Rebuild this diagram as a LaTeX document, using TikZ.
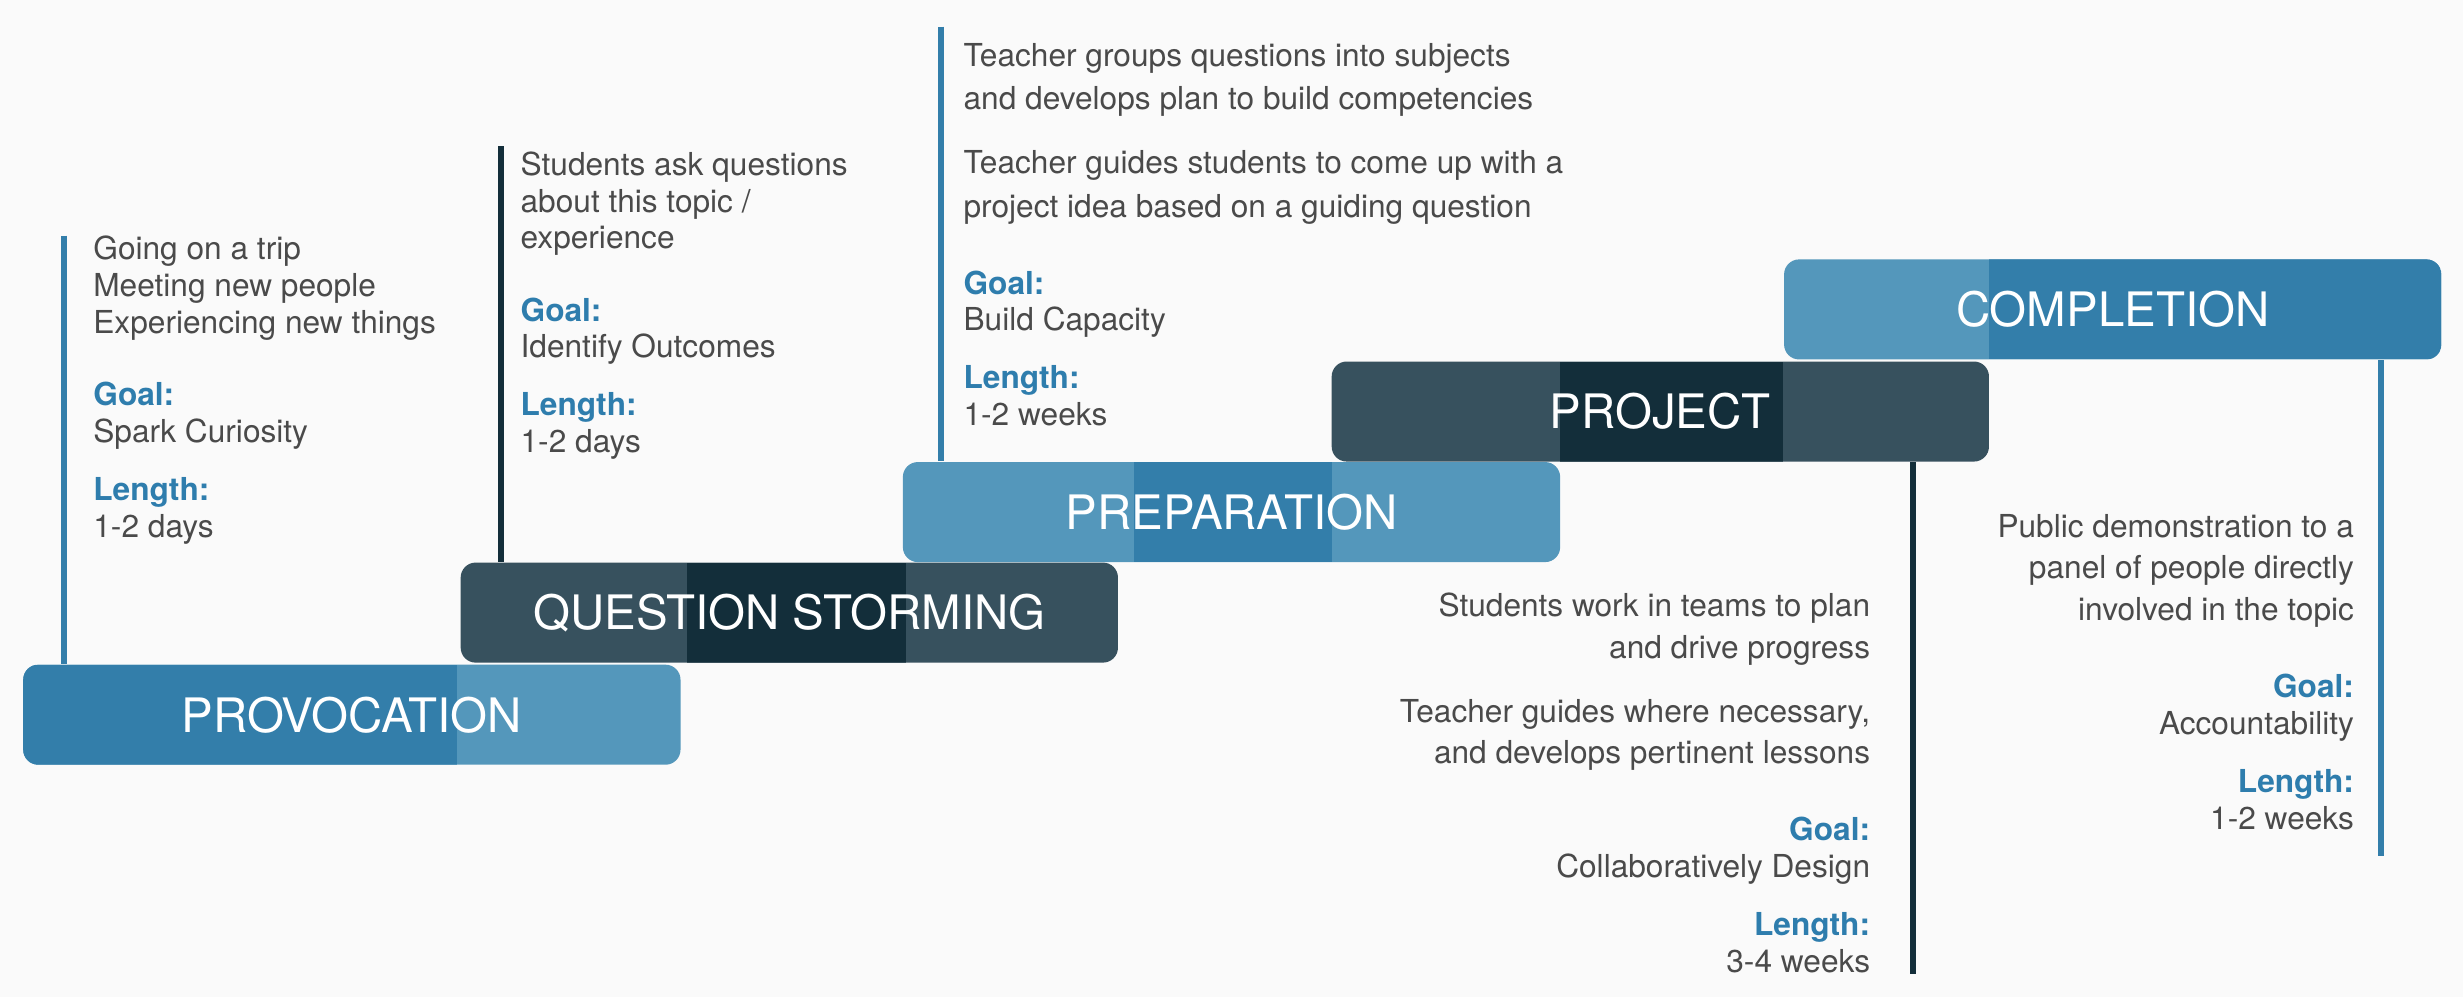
\documentclass[tikz,border=0pt]{standalone}
\usepackage{fontspec}
\setmainfont{TeX Gyre Heros}
\usepackage{tikz}
\usetikzlibrary{positioning, calc}
\definecolor{PhaseBlue}{HTML}{337EAA}
\definecolor{PhaseSky}{HTML}{5497BB}
\definecolor{PhaseSlate}{HTML}{37515E}
\definecolor{PhaseNight}{HTML}{132E3A}
\definecolor{LabelBlue}{HTML}{2E7DAD}
\definecolor{TextGrey}{HTML}{4A4A4A}
\definecolor{PageBg}{HTML}{FAFAFA}
\newcommand{\goallabel}[1]{{\bfseries\color{LabelBlue}#1}}

\begin{document}
\begin{tikzpicture}[x=0.015708cm, y=-0.015708cm,
    phase/.style={rounded corners=0.15cm, minimum width=6.57cm, minimum height=1.0cm, inner sep=0pt,
        text=white, font=\fontsize{13.5}{15}\selectfont},
    band/.style n args={3}{path picture={\fill[#3, sharp corners]
        ($(path picture bounding box.north west)!#1!(path picture bounding box.north east)$) rectangle
        ($(path picture bounding box.south west)!#2!(path picture bounding box.south east)$);}},
    info/.style={inner sep=0pt, text=TextGrey, font=\fontsize{9}{10.5}\selectfont},
    stem/.style={line width=1.7pt}]
    \fill[PageBg] (0,0) rectangle (1568,635);
    \useasboundingbox (0,0) rectangle (1568,635);

    \node[phase, fill=PhaseSky, band={0}{0.660}{PhaseBlue}] (provocation) at (224,455) {PROVOCATION};
    \node[phase, fill=PhaseSlate, band={0.344}{0.677}{PhaseNight}] (storming) at (502.5,390) {QUESTION STORMING};
    \node[phase, fill=PhaseSky, band={0.352}{0.653}{PhaseBlue}] (preparation) at (784,326) {PREPARATION};
    \node[phase, fill=PhaseSlate, band={0.347}{0.687}{PhaseNight}] (project) at (1057,262) {PROJECT};
    \node[phase, fill=PhaseSky, band={0.311}{1}{PhaseBlue}] (completion) at (1345,197) {COMPLETION};

    \coordinate (provtop) at (41,150);
    \coordinate (stormtop) at (319,93);
    \coordinate (preptop) at (599,17);
    \coordinate (projend) at (1218,620);
    \coordinate (complend) at (1516,545);
    \draw[stem, PhaseBlue] (provtop) -- (provtop |- provocation.north);
    \draw[stem, PhaseNight] (stormtop) -- (stormtop |- storming.north);
    \draw[stem, PhaseBlue] (preptop) -- (preptop |- preparation.north);
    \draw[stem, PhaseNight] (projend |- project.south) -- (projend);
    \draw[stem, PhaseBlue] (complend |- completion.south) -- (complend);

    \node[info, align=left, anchor=north west] (provtext) at (59,150)
        {Going on a trip\\Meeting new people\\Experiencing new things\\[10pt]\goallabel{Goal:}\\Spark Curiosity\\[6pt]\goallabel{Length:}\\1-2 days};
    \node[info, align=left, anchor=north west] (stormtext) at (331,96)
        {Students ask questions\\about this topic /\\experience\\[10pt]\goallabel{Goal:}\\Identify Outcomes\\[6pt]\goallabel{Length:}\\1-2 days};
    \node[info, align=left, anchor=north west] (preptext) at (613,27)
        {Teacher groups questions into subjects\\[1.8pt]and develops plan to build competencies\\[7.8pt]Teacher guides students to come up with a\\[1.8pt]project idea based on a guiding question\\[11.4pt]\goallabel{Goal:}\\Build Capacity\\[6pt]\goallabel{Length:}\\1-2 weeks};
    \node[info, align=right, anchor=north east] (projtext) at (1191,377)
        {Students work in teams to plan\\[1.3pt]and drive progress\\[7.8pt]Teacher guides where necessary,\\[1.3pt]and develops pertinent lessons\\[11.4pt]\goallabel{Goal:}\\Collaboratively Design\\[6pt]\goallabel{Length:}\\3-4 weeks};
    \node[info, align=right, anchor=north east] (compltext) at (1499,327)
        {Public demonstration to a\\[1.3pt]panel of people directly\\[1.3pt]involved in the topic\\[11.4pt]\goallabel{Goal:}\\Accountability\\[6pt]\goallabel{Length:}\\1-2 weeks};
\end{tikzpicture}
\end{document}
